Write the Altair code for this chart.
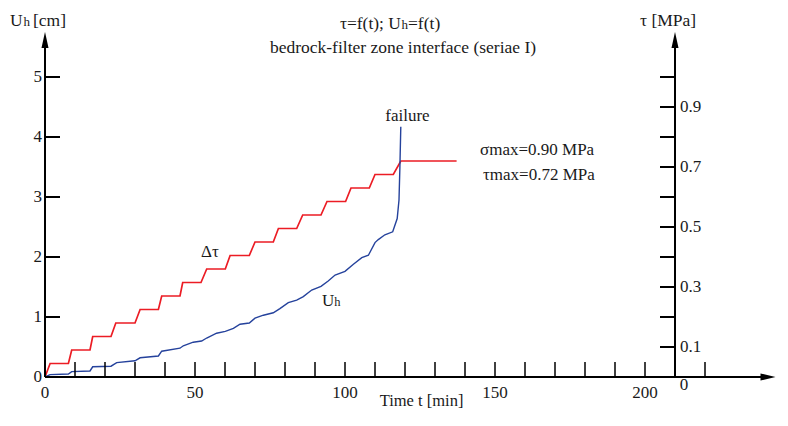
import altair as alt
import pandas as pd

# ---- data ----
# shear stress steps (tau, MPa) vs time (min)
tau_t = [0, 1.7, 7.8, 8.9, 15, 15.9, 22, 23.6, 30, 31.7, 37.8, 38.9, 45, 45.9, 52, 53.9,
         60.1, 61.7, 68.1, 70, 76.1, 77.8, 83.9, 85.9, 92, 94, 100.2, 102, 108.1, 110,
         116.1, 118.6, 137.2]
tau_v = [0, 0.045, 0.045, 0.09, 0.09, 0.135, 0.135, 0.18, 0.18, 0.225, 0.225, 0.27, 0.27,
         0.315, 0.315, 0.36, 0.36, 0.405, 0.405, 0.45, 0.45, 0.495, 0.495, 0.54, 0.54,
         0.585, 0.585, 0.63, 0.63, 0.675, 0.675, 0.72, 0.72]
# horizontal displacement (Uh, cm) vs time (min)
uh_t = [0, 1.7, 7.8, 8.9, 15, 15.9, 22, 23.9, 30, 31.7, 37.8, 38.9, 45, 46.1, 49.4, 52.2,
        53.9, 57.2, 60.1, 62.8, 65, 68.1, 70, 72.8, 76.1, 78.3, 81.1, 83.9, 86.1, 88.9, 92,
        94.4, 96.7, 100, 102.8, 105.6, 107.8, 110, 111.1, 113.3, 115.9, 117.4, 118, 118.3,
        118.6]
uh_v = [0, 0.04, 0.05, 0.09, 0.1, 0.17, 0.18, 0.24, 0.27, 0.32, 0.35, 0.43, 0.48, 0.52, 0.58,
        0.6, 0.65, 0.73, 0.76, 0.81, 0.88, 0.9, 0.98, 1.03, 1.07, 1.14, 1.24, 1.28, 1.34, 1.45,
        1.51, 1.6, 1.7, 1.76, 1.88, 1.99, 2.03, 2.24, 2.29, 2.37, 2.42, 2.64, 2.95, 3.5, 4.17]

x_ticks = [10, 20, 30, 40, 50, 60, 70, 80, 90, 100, 110, 120, 130, 140, 150, 160, 170, 180,
           190, 200, 220]
x_labels = [0, 50, 100, 150, 200]
u_ticks = [1, 2, 3, 4, 5]
u_labels = [0, 1, 2, 3, 4, 5]
tau_ticks = [0.1, 0.2, 0.3, 0.4, 0.5, 0.6, 0.7, 0.8, 0.9, 1.0]
tau_labels = ["0.1", "0.3", "0.5", "0.7", "0.9"]

# ---- layout constants ----
T_MAX = 243.5    # end of time axis (arrow tip)
PX_PER_MIN = 3
U_TOP = 5.75     # top of vertical axes (arrow tip)
TAU_TOP = U_TOP / 5
TAU_AXIS_T = 210  # position of the tau axis on the time scale
RED = "#ec1c24"
BLUE = "#25429c"
FONT = "Liberation Serif"
INK = "#1a1a1a"

xs = alt.Scale(domain=[0, T_MAX], nice=False, zero=False)
us = alt.Scale(domain=[0, U_TOP], nice=False, zero=False)
ts = alt.Scale(domain=[0, TAU_TOP], nice=False, zero=False)


def X(f):
    return alt.X(f, type="quantitative", scale=xs, axis=None)


def YU(f):
    return alt.Y(f, type="quantitative", scale=us, axis=None)


def YT(f):
    return alt.Y(f, type="quantitative", scale=ts, axis=None)


def txt(data, **kw):
    kw.setdefault("fontSize", 17)
    return alt.Chart(data).mark_text(font=FONT, color=INK, **kw)


df_tau = pd.DataFrame({"t": tau_t, "v": tau_v, "i": range(len(tau_t))})
df_uh = pd.DataFrame({"t": uh_t, "v": uh_v, "i": range(len(uh_t))})

red = alt.Chart(df_tau).mark_line(color=RED, strokeWidth=1.7).encode(
    x=X("t"), y=YT("v"), order="i:Q")
blue = alt.Chart(df_uh).mark_line(color=BLUE, strokeWidth=1.4).encode(
    x=X("t"), y=YU("v"), order="i:Q")

# axis lines
axis_v = alt.Chart(pd.DataFrame({"t": [0, TAU_AXIS_T], "a": [0, 0], "b": [U_TOP - 0.2] * 2})
                   ).mark_rule(color="black", strokeWidth=2).encode(
    x=X("t"), y=YU("a"), y2="b")
axis_h = alt.Chart(pd.DataFrame({"a": [0], "b": [T_MAX - 3], "u": [0]})).mark_rule(
    color="black", strokeWidth=2).encode(x=X("a"), x2="b", y=YU("u"))

up_arrow = "M0,0L0.22,1L-0.22,1Z"
right_arrow = "M0,0L-1,0.24L-1,-0.24Z"
arrows_v = alt.Chart(pd.DataFrame({"t": [0, TAU_AXIS_T], "u": [U_TOP, U_TOP]})).mark_point(
    shape=up_arrow, size=1024, filled=True, color="black", opacity=1, strokeWidth=0).encode(
    x=X("t"), y=YU("u"))
arrow_h = alt.Chart(pd.DataFrame({"t": [T_MAX], "u": [0]})).mark_point(
    shape=right_arrow, size=900, filled=True, color="black", opacity=1, strokeWidth=0).encode(
    x=X("t"), y=YU("u"))

# ticks
df_xt = pd.DataFrame({"t": x_ticks, "a": 0, "b": 0.25})
xt = alt.Chart(df_xt).mark_rule(color="black", strokeWidth=1.5).encode(
    x=X("t"), y=YU("a"), y2="b")
df_ut = pd.DataFrame({"u": u_ticks, "a": 0, "b": 5})
ut = alt.Chart(df_ut).mark_rule(color="black", strokeWidth=2).encode(
    x=X("a"), x2="b", y=YU("u"))
df_tt = pd.DataFrame({"v": tau_ticks, "a": TAU_AXIS_T - 5, "b": TAU_AXIS_T})
tt = alt.Chart(df_tt).mark_rule(color="black", strokeWidth=2).encode(
    x=X("a"), x2="b", y=YT("v"))

# tick labels
lab_x = txt(pd.DataFrame({"t": x_labels, "u": 0, "s": [str(v) for v in x_labels]}),
            align="center", baseline="alphabetic", dy=21).encode(
    x=X("t"), y=YU("u"), text="s:N")
lab_u = txt(pd.DataFrame({"t": 0, "u": u_labels, "s": [str(v) for v in u_labels]}),
            align="right", baseline="middle", dx=-3).encode(
    x=X("t"), y=YU("u"), text="s:N")
lab_tau = txt(pd.DataFrame({"t": TAU_AXIS_T, "v": [float(s) for s in tau_labels],
                            "s": tau_labels}),
              align="left", baseline="middle", dx=5).encode(
    x=X("t"), y=YT("v"), text="s:N")
lab_tau0 = txt(pd.DataFrame({"t": [TAU_AXIS_T], "v": [0.0], "s": ["0"]}),
               align="center", baseline="alphabetic", dx=9, dy=13).encode(
    x=X("t"), y=YT("v"), text="s:N")

# annotations in data coordinates
fail_txt = txt(pd.DataFrame({"t": [120.8], "u": [4.27], "s": ["failure"]}),
               align="center", baseline="alphabetic").encode(
    x=X("t"), y=YU("u"), text="s:N")
rest = pd.DataFrame({
    "t": [145, 146, 52, 92.3],
    "u": [3.7, 3.28, 2.0, 1.18],
    "s": ["σmax=0.90 MPa", "τmax=0.72 MPa", "Δτ", "U"],
})
rest_txt = txt(rest, align="left", baseline="alphabetic").encode(
    x=X("t"), y=YU("u"), text="s:N")
ann_sub = txt(pd.DataFrame({"t": [96.4], "u": [1.18], "s": ["h"]}),
              align="left", baseline="alphabetic", fontSize=12.5).encode(
    x=X("t"), y=YU("u"), text="s:N")


def ptext(s, x, y, align="left", size=17.5):
    return txt(pd.DataFrame({"s": [s]}), align=align, baseline="alphabetic",
               fontSize=size).encode(x=alt.value(x), y=alt.value(y), text="s:N")


titles = [
    ptext("τ=f(t); U", 356, -3, "right"),
    ptext("h", 356.5, -3, "left", 13),
    ptext("=f(t)", 363, -3, "left"),
    ptext("bedrock-filter zone interface (seriae I)", 358, 21, "center"),
    ptext("U", -35, -6, "left"),
    ptext("h", -21.5, -6, "left", 13),
    ptext("[cm]", -12, -6, "left"),
    ptext("τ [MPa]", 595, -6, "left"),
    ptext("Time t [min]", 376.5, 374, "center", 16.5),
]

chart = alt.layer(
    red, blue, axis_v, axis_h, arrows_v, arrow_h, xt, ut, tt,
    lab_x, lab_u, lab_tau, lab_tau0, fail_txt, rest_txt, ann_sub, *titles
).resolve_scale(y="independent").properties(
    width=T_MAX * PX_PER_MIN, height=345,
    padding={"left": 37, "top": 24, "right": 0, "bottom": 33},
    autosize=alt.AutoSizeParams(type="none"),
).configure_view(stroke=None)

chart.save("out.html", embed_options={"renderer": "svg", "actions": False})
